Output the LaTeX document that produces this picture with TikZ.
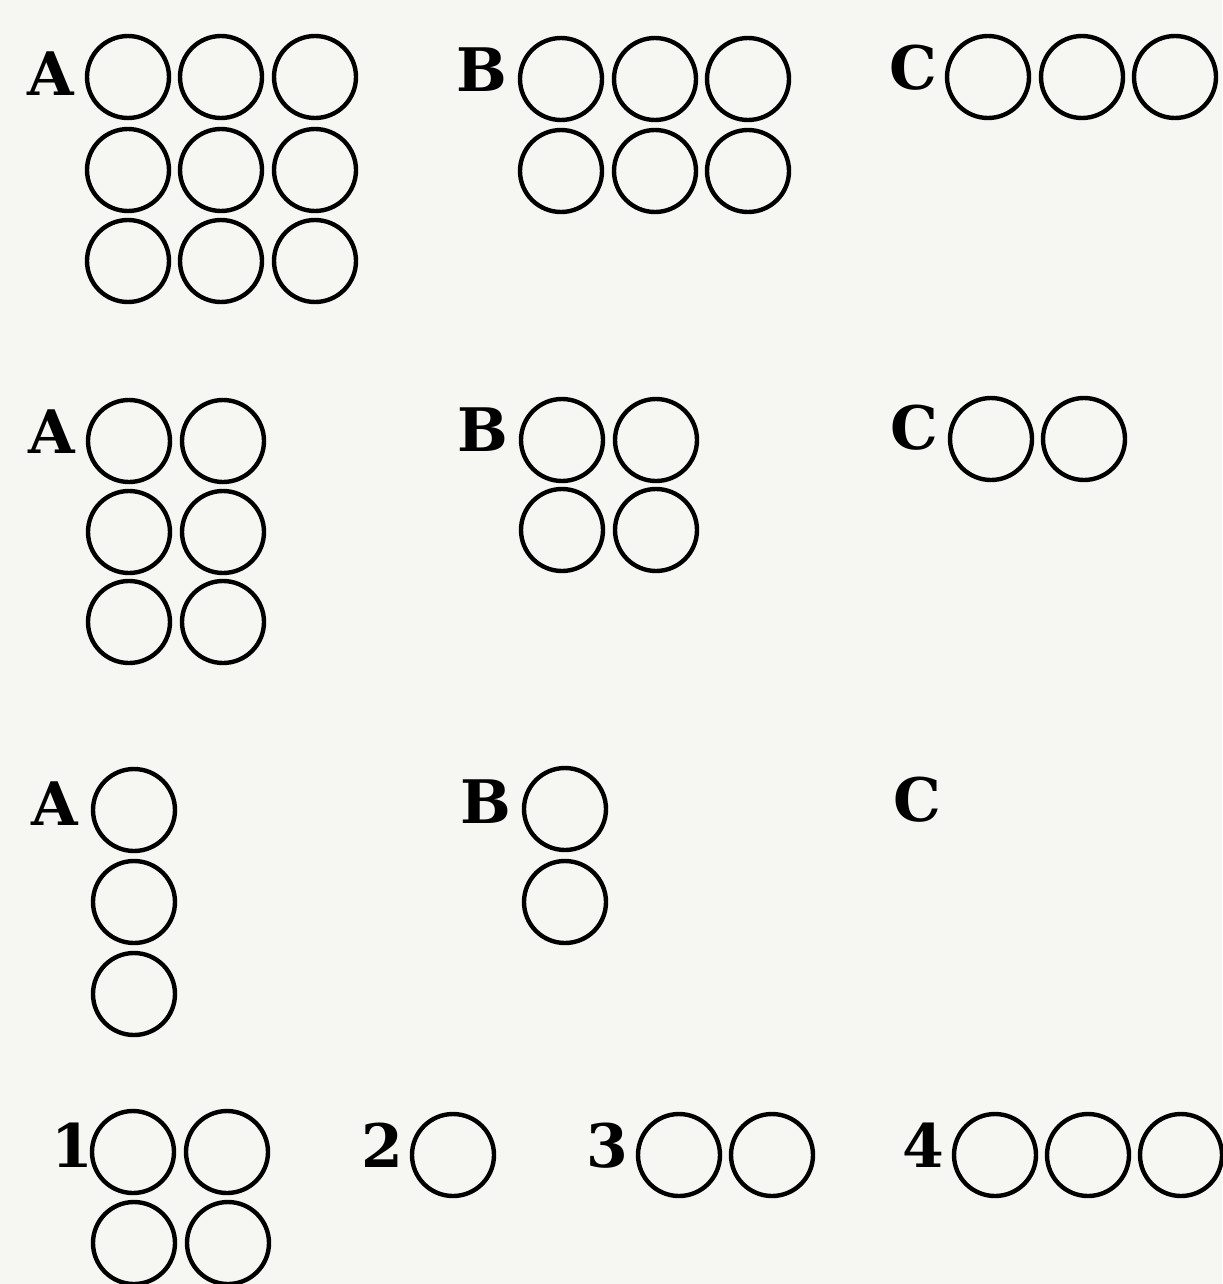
\documentclass[tikz,border=0pt]{standalone}
\usepackage{fontspec}
\newfontfamily\lblfont{DejaVu Serif}
\definecolor{paper}{RGB}{246,246,242}
\begin{document}
\begin{tikzpicture}[x=0.5pt,y=-0.5pt,
  ring/.style={circle,draw=black,line width=2.2pt,minimum size=41pt,inner sep=0pt},
  lbl/.style={inner sep=0pt,font=\lblfont\fontsize{30}{36}\selectfont\bfseries}]
\fill[paper] (0,0) rectangle (1222,1284);
\useasboundingbox (0,0) rectangle (1222,1284);
% Row 1
\node[lbl] (A1) at (51,74) {A};
\foreach \x/\i in {128/1,221/2,315/3}
  \foreach \y/\j in {77/1,170/2,261/3}
    \node[ring] (A1-\j-\i) at (\x,\y) {};
\node[lbl] (B1) at (482,70) {B};
\foreach \x/\i in {561/1,655/2,748/3}
  \foreach \y/\j in {79/1,171/2}
    \node[ring] (B1-\j-\i) at (\x,\y) {};
\node[lbl] (C1) at (913,68) {C};
\foreach \x/\i in {988/1,1082/2,1175/3}
  \node[ring] (C1-1-\i) at (\x,77) {};
% Row 2
\node[lbl] (A2) at (52,432) {A};
\foreach \x/\i in {129/1,223/2}
  \foreach \y/\j in {441/1,532/2,622/3}
    \node[ring] (A2-\j-\i) at (\x,\y) {};
\node[lbl] (B2) at (483,430) {B};
\foreach \x/\i in {562/1,656/2}
  \foreach \y/\j in {440/1,530/2}
    \node[ring] (B2-\j-\i) at (\x,\y) {};
\node[lbl] (C2) at (914,428) {C};
\foreach \x/\i in {991/1,1084/2}
  \node[ring] (C2-1-\i) at (\x,439) {};
% Row 3
\node[lbl] (A3) at (55,804) {A};
\foreach \y/\j in {810/1,902/2,994/3}
  \node[ring] (A3-\j) at (134,\y) {};
\node[lbl] (B3) at (486,802) {B};
\foreach \y/\j in {809/1,902/2}
  \node[ring] (B3-\j) at (565,\y) {};
\node[lbl] (C3) at (917,800) {C};
% Row 4
\node[lbl] (N1) at (72,1145) {1};
\foreach \x/\i in {133/1,227/2}
  \node[ring] (N1-1-\i) at (\x,1152) {};
\foreach \x/\i in {134/1,228/2}
  \node[ring] (N1-2-\i) at (\x,1243) {};
\node[lbl] (N2) at (382,1145) {2};
\node[ring] (N2-1) at (453,1155) {};
\node[lbl] (N3) at (607,1146) {3};
\foreach \x/\i in {679/1,772/2}
  \node[ring] (N3-\i) at (\x,1155) {};
\node[lbl] (N4) at (923,1145) {4};
\foreach \x/\i in {995/1,1088/2,1181/3}
  \node[ring] (N4-\i) at (\x,1155) {};
\end{tikzpicture}
\end{document}
